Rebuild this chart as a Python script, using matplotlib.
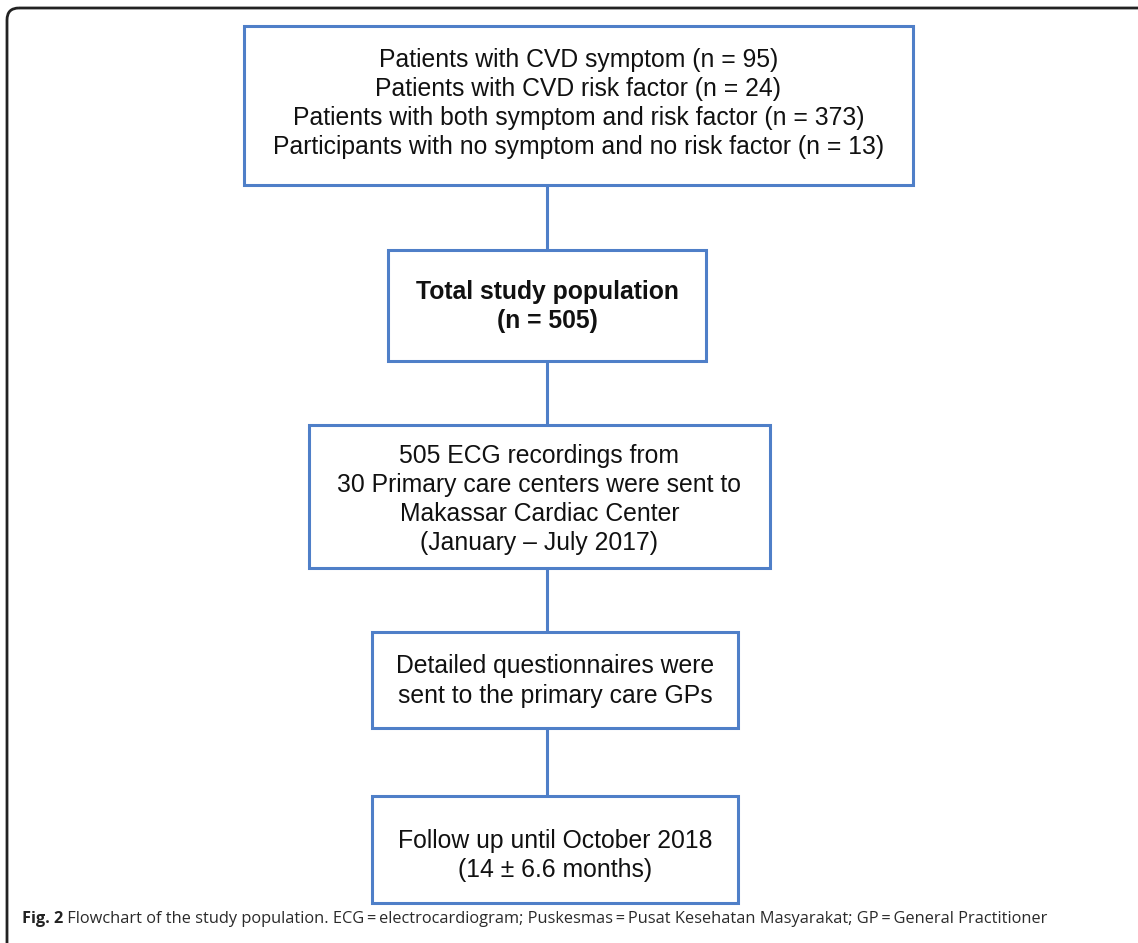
import matplotlib.pyplot as plt
from matplotlib.patches import FancyBboxPatch, Rectangle

# box contents, top to bottom
box_texts = [
    ["Patients with CVD symptom (n = 95)",
     "Patients with CVD risk factor (n = 24)",
     "Patients with both symptom and risk factor (n = 373)",
     "Participants with no symptom and no risk factor (n = 13)"],
    ["Total study population", "(n = 505)"],
    ["505 ECG recordings from",
     "30 Primary care centers were sent to",
     "Makassar Cardiac Center",
     "(January \u2013 July 2017)"],
    ["Detailed questionnaires were", "sent to the primary care GPs"],
    ["Follow up until October 2018", "(14 \u00b1 6.6 months)"],
]
box_bold = [False, True, False, False, False]

caption_bold = "Fig. 2"
caption_text = (" Flowchart of the study population. ECG\u2009=\u2009electrocardiogram; "
                "Puskesmas\u2009=\u2009Pusat Kesehatan Masyarakat; GP\u2009=\u2009General Practitioner")

# layout in pixels: (left, top, right, bottom), text offset from box middle
boxes = [
    (244, 26, 913, 185),
    (388, 250, 706, 361),
    (309, 425, 770, 568),
    (372, 632, 738, 728),
    (372, 796, 738, 903),
]
text_shift = [-2, 1, 3, 1, 6]
line_step = 29
blue = "#4f7fc8"

fig = plt.figure(figsize=(11.38, 9.43), dpi=100)
ax = fig.add_axes([0, 0, 1, 1])
ax.set_xlim(0, 1138)
ax.set_ylim(943, 0)
ax.axis("off")

# outer frame (only top and left edges visible)
frame = FancyBboxPatch((7, 8), 1200, 1000, boxstyle="round,pad=0,rounding_size=12",
                       fill=False, edgecolor="#222222", linewidth=2.0)
ax.add_patch(frame)

# connectors
cx = 547
for (l1, t1, r1, b1), (l2, t2, r2, b2) in zip(boxes[:-1], boxes[1:]):
    ax.plot([cx, cx], [b1, t2], color=blue, lw=2.2, solid_capstyle="butt")

for (l, t, r, b), lines, bold, dy in zip(boxes, box_texts, box_bold, text_shift):
    ax.add_patch(Rectangle((l, t), r - l, b - t, fill=False,
                           edgecolor=blue, linewidth=2.2))
    mid = (t + b) / 2 + dy
    n = len(lines)
    for i, s in enumerate(lines):
        y = mid + (i - (n - 1) / 2) * line_step
        ax.text((l + r) / 2, y, s, ha="center", va="center",
                fontsize=17.8, family="Liberation Sans", color="#111111",
                fontweight="bold" if bold else "normal")

t1 = ax.text(22, 919, caption_bold, ha="left", va="center", fontsize=11.8,
             family="Open Sans", fontweight="bold", color="#222222")
fig.canvas.draw()
bb = t1.get_window_extent()
x_end = ax.transData.inverted().transform((bb.x1, bb.y0))[0]
ax.text(x_end, 919, caption_text, ha="left", va="center", fontsize=11.8,
        family=["Open Sans", "DejaVu Sans"], color="#2a2a2a")

fig.savefig("out.png", dpi=100)
